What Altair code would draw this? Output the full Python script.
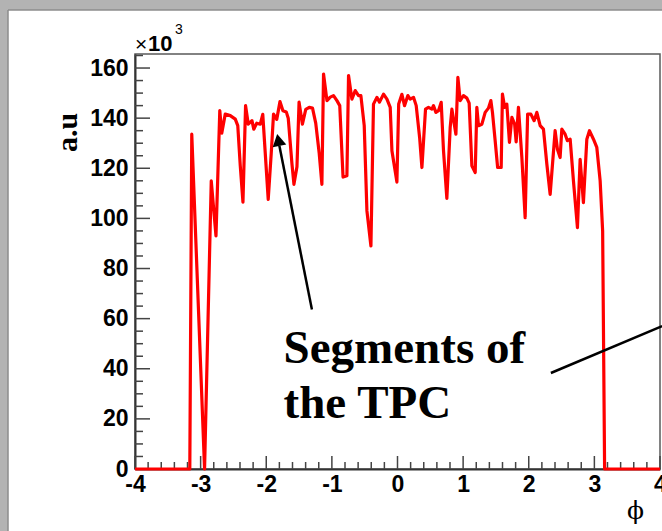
import altair as alt
import pandas as pd
import numpy as np

# phi (rad) and signal (a.u., in units of 10^3)
phi = [-4.0, -3.165, -3.135, -2.940, -2.838, -2.766, -2.708, -2.678, -2.625, -2.548,
       -2.472, -2.434, -2.396, -2.355, -2.315, -2.274, -2.218, -2.190, -2.145, -2.091,
       -2.053, -1.970, -1.924, -1.889, -1.840, -1.791, -1.746, -1.695, -1.665, -1.609,
       -1.578, -1.532, -1.500, -1.449, -1.398, -1.345, -1.295, -1.246, -1.193, -1.152,
       -1.127, -1.075, -1.025, -0.975, -0.923, -0.880, -0.830, -0.771, -0.746, -0.695,
       -0.644, -0.594, -0.558, -0.507, -0.466, -0.405, -0.366, -0.314, -0.274, -0.213,
       -0.161, -0.111, -0.085, -0.009, 0.018, 0.067, 0.107, 0.158, 0.193, 0.244,
       0.285, 0.338, 0.372, 0.427, 0.472, 0.524, 0.548, 0.585, 0.625, 0.666,
       0.701, 0.752, 0.803, 0.829, 0.853, 0.890, 0.920, 0.955, 1.005, 1.057,
       1.092, 1.133, 1.184, 1.209, 1.234, 1.286, 1.336, 1.386, 1.423, 1.447,
       1.488, 1.526, 1.580, 1.599, 1.633, 1.666, 1.706, 1.743, 1.785, 1.808,
       1.843, 1.895, 1.945, 1.983, 2.032, 2.082, 2.123, 2.174, 2.224, 2.276,
       2.326, 2.402, 2.437, 2.478, 2.504, 2.554, 2.589, 2.631, 2.681, 2.742,
       2.783, 2.833, 2.885, 2.925, 2.986, 3.037, 3.088, 3.126, 3.156, 4.0]
signal = [0, 0, 133.6, 0, 115, 93, 143, 134, 141.6, 141,
          139.6, 137, 121, 106.5, 145, 137.6, 139, 135.6, 138, 137.6,
          141.5, 107.6, 126, 141.6, 139.5, 146.6, 143, 142.5, 140, 122,
          113.6, 120.6, 146.4, 137.6, 143.5, 144.3, 144, 138, 126, 113.6,
          157.6, 147, 148.4, 149, 147, 145, 116.5, 117, 157, 147.6,
          151, 149, 149, 137, 103, 89, 145.6, 148.3, 146.4, 149.6,
          147.6, 144.3, 127, 114.5, 145.6, 149.5, 145, 149, 147.6, 148.3,
          145, 132, 120.3, 143.6, 144.3, 143.6, 145, 142.3, 143, 146.3,
          127, 108, 136.3, 143.6, 139.6, 133.6, 156.3, 147, 149, 148,
          146, 121, 118.3, 144.3, 137, 137.6, 142.3, 144, 147, 142.3,
          131, 120.3, 120.3, 149.6, 144.3, 145.6, 130.3, 140.3, 137.6, 130.5,
          144.3, 124.3, 100.3, 141.6, 141.6, 139, 142.3, 137, 135.6, 121.6,
          109.6, 135, 127.6, 124.3, 135.6, 133.6, 131, 131.6, 115, 96.3,
          123.6, 106.3, 131.6, 135, 131.6, 128.3, 115, 95, 0, 0]

x_major = [-4, -3, -2, -1, 0, 1, 2, 3, 4]
y_major = [0, 20, 40, 60, 80, 100, 120, 140, 160]
x_minor = [v for v in np.round(np.arange(-4, 4.001, 0.2), 2) if abs(v - round(v)) > 1e-6]
y_minor = [v for v in range(0, 166, 5) if v % 20 != 0]

# annotations (data coordinates)
text_lines = ["Segments of", "the TPC"]
text_phi = [-1.736, -1.736]
text_val = [42.4, 20.4]
arrow_from = (-1.304, 63.6)
arrow_to = (-1.800, 129.0)
head_at = (-1.816, 131.3)
pointer_from = (2.337, 38.3)
pointer_to = (4.032, 57.0)

W, H = 525, 415
XS = alt.Scale(domain=[-4, 4], nice=False, zero=False)
YS = alt.Scale(domain=[0, 165.6], nice=False, zero=False)

X_AX = alt.Axis(values=x_major, labelExpr="'' + datum.value", title="\u03d5",
                titleFont="DejaVu Serif", titleFontWeight="normal", titleFontSize=25,
                titleX=500, titleY=49, titleAlign="center", titleBaseline="alphabetic",
                titleColor="black",
                labelFlush=False, labelOverlap=False, labelPadding=4, ticks=False, grid=False,
                domain=True, domainColor="#333333", domainWidth=2,
                labelFont="Liberation Sans", labelFontWeight="bold", labelFontSize=23,
                labelColor="black")
Y_AX = alt.Axis(values=y_major, title="a.u", titleFont="Liberation Serif",
                titleFontWeight="bold", titleFontSize=30, titleAngle=270, titleColor="black",
                titleX=-59, titleY=78, titleAlign="center", titleBaseline="alphabetic",
                labelOverlap=False, labelPadding=7, ticks=False, grid=False,
                domain=True, domainColor="#333333", domainWidth=2,
                labelFont="Liberation Sans", labelFontWeight="bold", labelFontSize=23,
                labelColor="black", labelFlush=False)

def X(f="phi"):
    return alt.X(f"{f}:Q", scale=XS, axis=X_AX)

def Y(f="val"):
    return alt.Y(f"{f}:Q", scale=YS, axis=Y_AX)

one = pd.DataFrame({"a": [0]})

# grey window border (left and top bands) with a darker inner edge
band_left = alt.Chart(one).mark_rect(fill="#b3b3b3").encode(
    x=alt.value(-135), x2=alt.value(-127), y=alt.value(-54), y2=alt.value(H + 62))
band_top = alt.Chart(one).mark_rect(fill="#b3b3b3").encode(
    x=alt.value(-135), x2=alt.value(W + 2), y=alt.value(-54), y2=alt.value(-44))
edge_left = alt.Chart(one).mark_rule(color="#8c8c8c", strokeWidth=1.5).encode(
    x=alt.value(-127), y=alt.value(-44), y2=alt.value(H + 62))
edge_top = alt.Chart(one).mark_rule(color="#8c8c8c", strokeWidth=1.5).encode(
    x=alt.value(-127), x2=alt.value(W + 2), y=alt.value(-44))

xt_maj = alt.Chart(pd.DataFrame({"phi": x_major})).mark_rule(color="#444444", strokeWidth=1.5).encode(
    x=X(), y=alt.value(H), y2=alt.value(H - 13))
xt_min = alt.Chart(pd.DataFrame({"phi": x_minor})).mark_rule(color="#444444", strokeWidth=1.5).encode(
    x=X(), y=alt.value(H), y2=alt.value(H - 7))
yt_maj = alt.Chart(pd.DataFrame({"val": y_major})).mark_rule(color="#444444", strokeWidth=1.5).encode(
    y=Y(), x=alt.value(0), x2=alt.value(15))
yt_min = alt.Chart(pd.DataFrame({"val": y_minor})).mark_rule(color="#444444", strokeWidth=1.5).encode(
    y=Y(), x=alt.value(0), x2=alt.value(8))

curve = alt.Chart(pd.DataFrame({"phi": phi, "val": signal})).mark_line(
    color="#ff0000", strokeWidth=3.2, strokeJoin="round").encode(x=X(), y=Y())

arrow = alt.Chart(pd.DataFrame({"phi": [arrow_from[0]], "val": [arrow_from[1]],
                                "phi2": [arrow_to[0]], "val2": [arrow_to[1]]})).mark_rule(
    color="black", strokeWidth=2.5).encode(x=X(), y=Y(), x2="phi2:Q", y2="val2:Q")
head = alt.Chart(pd.DataFrame({"phi": [head_at[0]], "val": [head_at[1]]})).mark_point(
    shape="triangle-up", filled=True, color="black", opacity=1, size=190, angle=348.8).encode(x=X(), y=Y())
pointer = alt.Chart(pd.DataFrame({"phi": [pointer_from[0]], "val": [pointer_from[1]],
                                  "phi2": [pointer_to[0]], "val2": [pointer_to[1]]})).mark_rule(
    color="black", strokeWidth=2.5).encode(x=X(), y=Y(), x2="phi2:Q", y2="val2:Q")

label = alt.Chart(pd.DataFrame({"phi": text_phi, "val": text_val, "txt": text_lines})).mark_text(
    align="left", baseline="alphabetic", font="Liberation Serif", fontWeight="bold",
    fontSize=47, color="black").encode(x=X(), y=Y(), text="txt:N")

times = alt.Chart(one).mark_text(align="left", baseline="alphabetic", font="Liberation Sans",
                                  fontSize=21, color="black").encode(
    x=alt.value(0), y=alt.value(-3), text=alt.value("\u00d7"))
ten = alt.Chart(one).mark_text(align="left", baseline="alphabetic", font="Liberation Sans",
                                fontWeight="bold", fontSize=22, color="black").encode(
    x=alt.value(13), y=alt.value(-3), text=alt.value("10"))
three = alt.Chart(one).mark_text(align="left", baseline="alphabetic", font="Liberation Sans",
                                  fontSize=14, color="black").encode(
    x=alt.value(40), y=alt.value(-20), text=alt.value("3"))

chart = alt.layer(band_left, band_top, edge_left, edge_top, xt_min, xt_maj, yt_min, yt_maj,
                  curve, arrow, head, pointer, label, times, ten, three).properties(
    width=W, height=H,
    padding={"left": 135, "top": 54, "right": 2, "bottom": 62},
    autosize=alt.AutoSizeParams(type="none"),
    background="white",
).configure_view(stroke="#5a5a5a", strokeWidth=1.5)

chart.save("out.html", embed_options={"renderer": "svg", "actions": False})
